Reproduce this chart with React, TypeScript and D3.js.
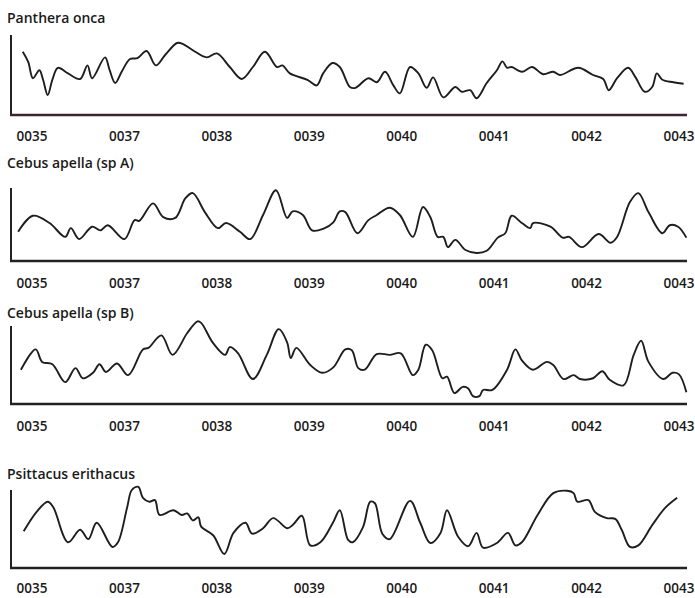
import React, { useEffect, useRef } from 'react';
import * as d3 from 'd3';

// tick labels along every x axis
const tickLabels = ['0035', '0037', '0038', '0039', '0040', '0041', '0042', '0043'];

const titles = ['Panthera onca', 'Cebus apella (sp A)', 'Cebus apella (sp B)', 'Psittacus erithacus'];

// [position in label units (0035 = 0 ... 0043 = 7), relative level 0-100]
const pantheraOnca: [number, number][] = [
  [-0.1, 79], [-0.04, 66], [0.01, 46], [0.08, 56], [0.12, 44], [0.17, 25], [0.22, 44], [0.28, 59],
  [0.39, 52], [0.52, 45], [0.6, 62], [0.65, 46], [0.79, 72], [0.84, 56], [0.9, 40], [0.97, 54],
  [1.06, 70], [1.14, 71], [1.24, 80], [1.34, 62], [1.44, 75], [1.57, 90], [1.63, 89], [1.74, 81],
  [1.89, 72], [2.0, 77], [2.14, 60], [2.27, 45], [2.39, 60], [2.52, 79], [2.65, 60], [2.71, 62],
  [2.79, 52], [2.98, 44], [3.08, 37], [3.15, 52], [3.25, 65], [3.33, 60], [3.44, 35], [3.5, 34],
  [3.64, 46], [3.73, 41], [3.82, 54], [3.91, 37], [3.98, 27], [4.09, 60], [4.18, 52], [4.27, 34],
  [4.34, 47], [4.45, 22], [4.58, 35], [4.65, 29], [4.74, 31], [4.81, 21], [4.92, 40], [5.03, 56],
  [5.09, 67], [5.14, 59], [5.19, 60], [5.3, 54], [5.41, 60], [5.53, 51], [5.64, 54], [5.71, 50],
  [5.91, 59], [6.07, 50], [6.18, 45], [6.24, 31], [6.33, 46], [6.45, 59], [6.53, 47], [6.63, 29],
  [6.71, 35], [6.76, 52], [6.82, 44], [6.94, 41], [7.05, 39],
];

const cebusA: [number, number][] = [
  [-0.15, 40], [0.01, 62], [0.19, 52], [0.36, 33], [0.42, 45], [0.51, 30], [0.65, 47], [0.74, 42],
  [0.82, 49], [1.0, 30], [1.11, 56], [1.16, 55], [1.31, 79], [1.42, 60], [1.55, 59], [1.66, 86],
  [1.74, 93], [1.87, 67], [2.01, 45], [2.1, 52], [2.25, 40], [2.36, 30], [2.5, 63], [2.64, 97],
  [2.76, 59], [2.82, 68], [2.93, 63], [3.03, 42], [3.15, 44], [3.26, 53], [3.33, 68], [3.39, 67],
  [3.52, 38], [3.64, 56], [3.73, 63], [3.87, 73], [3.98, 63], [4.12, 33], [4.23, 74], [4.31, 60],
  [4.39, 33], [4.45, 33], [4.5, 19], [4.58, 29], [4.69, 15], [4.81, 11], [4.92, 14], [5.04, 32],
  [5.12, 38], [5.19, 62], [5.3, 52], [5.39, 45], [5.42, 52], [5.61, 47], [5.74, 32], [5.81, 33],
  [5.95, 19], [6.13, 37], [6.26, 25], [6.33, 33], [6.47, 81], [6.56, 93], [6.67, 67], [6.82, 38],
  [6.9, 49], [6.99, 47], [7.08, 32],
];

const cebusB: [number, number][] = [
  [-0.12, 44], [0.04, 70], [0.11, 54], [0.22, 51], [0.36, 28], [0.47, 46], [0.55, 33], [0.66, 40],
  [0.73, 51], [0.8, 41], [0.92, 52], [1.04, 37], [1.2, 70], [1.26, 72], [1.4, 88], [1.52, 63],
  [1.68, 91], [1.79, 106], [1.83, 104], [1.96, 78], [2.09, 63], [2.14, 73], [2.23, 65], [2.39, 32],
  [2.54, 63], [2.67, 96], [2.76, 79], [2.8, 59], [2.86, 72], [3.01, 50], [3.14, 40], [3.26, 47],
  [3.39, 70], [3.46, 69], [3.53, 46], [3.6, 44], [3.73, 64], [3.87, 63], [3.99, 65], [4.12, 37],
  [4.18, 44], [4.26, 76], [4.33, 69], [4.44, 33], [4.49, 35], [4.57, 14], [4.66, 22], [4.72, 20],
  [4.77, 10], [4.84, 10], [4.88, 18], [4.98, 18], [5.14, 44], [5.23, 70], [5.3, 56], [5.42, 44],
  [5.57, 54], [5.64, 50], [5.75, 32], [5.86, 37], [5.93, 32], [6.07, 33], [6.17, 42], [6.25, 31],
  [6.4, 24], [6.51, 63], [6.59, 81], [6.67, 54], [6.83, 32], [6.93, 40], [7.0, 38], [7.08, 15],
];

const psittacus: [number, number][] = [
  [-0.09, 47], [0.05, 72], [0.17, 85], [0.23, 78], [0.39, 33], [0.52, 49], [0.61, 37], [0.7, 58],
  [0.87, 27], [0.93, 33], [1.03, 78], [1.08, 100], [1.15, 104], [1.2, 90], [1.27, 85], [1.33, 87],
  [1.38, 68], [1.53, 74], [1.62, 68], [1.68, 70], [1.74, 61], [1.8, 65], [1.83, 53], [1.96, 42],
  [2.08, 18], [2.18, 45], [2.31, 58], [2.38, 44], [2.5, 51], [2.61, 64], [2.76, 51], [2.82, 55],
  [2.92, 67], [3.01, 29], [3.12, 33], [3.26, 59], [3.33, 74], [3.42, 36], [3.47, 33], [3.58, 52],
  [3.66, 85], [3.71, 83], [3.79, 44], [3.87, 37], [4.09, 86], [4.2, 58], [4.31, 32], [4.42, 45],
  [4.49, 74], [4.61, 40], [4.72, 28], [4.81, 45], [4.88, 26], [5.03, 32], [5.15, 45], [5.23, 29],
  [5.3, 33], [5.47, 68], [5.64, 96], [5.79, 99], [5.86, 96], [5.9, 85], [6.02, 87], [6.09, 72],
  [6.22, 64], [6.31, 63], [6.38, 49], [6.47, 27], [6.56, 29], [6.71, 55], [6.85, 77], [6.98, 90],
];

const seriesList = [pantheraOnca, cebusA, cebusB, psittacus];

// panel layout: title baseline, axis top, axis baseline, label baseline
const panels = [
  { titleY: 23, top: 35, bottom: 115, labelY: 141, axisColor: '#3d2430' },
  { titleY: 168, top: 188, bottom: 261, labelY: 288, axisColor: '#222' },
  { titleY: 318, top: 326, bottom: 404, labelY: 431, axisColor: '#222' },
  { titleY: 479, top: 490, bottom: 568, labelY: 593, axisColor: '#222' },
];

const App = () => {
  const svgRef = useRef<SVGSVGElement>(null);

  useEffect(() => {
    const svg = d3.select(svgRef.current);
    svg.selectAll('*').remove();

    const axisLeft = 11;
    const axisRight = 687;
    const font = '"Open Sans", sans-serif';

    const xLabel = d3.scalePoint<string>().domain(tickLabels).range([32, 679]);
    const xUnit = d3.scaleLinear().domain([0, tickLabels.length - 1]).range([32, 679]);

    panels.forEach((p, i) => {
      const g = svg.append('g');
      const y = d3.scaleLinear().domain([0, 100]).range([p.bottom, p.top]);

      g.append('text')
        .attr('x', 7)
        .attr('y', p.titleY)
        .style('font-family', font)
        .style('font-weight', 600)
        .style('font-size', '14px')
        .attr('fill', '#1a1a1a')
        .text(titles[i]);

      // y axis line
      g.append('line')
        .attr('x1', axisLeft).attr('x2', axisLeft)
        .attr('y1', p.top).attr('y2', p.bottom)
        .attr('stroke', '#222')
        .attr('stroke-width', 2);

      // x axis line
      g.append('line')
        .attr('x1', axisLeft - 1).attr('x2', axisRight)
        .attr('y1', p.bottom).attr('y2', p.bottom)
        .attr('stroke', p.axisColor)
        .attr('stroke-width', 2.5);

      g.selectAll('.tick-label')
        .data(tickLabels)
        .enter()
        .append('text')
        .attr('class', 'tick-label')
        .attr('x', (d) => xLabel(d) as number)
        .attr('y', p.labelY)
        .attr('text-anchor', 'middle')
        .style('font-family', font)
        .style('font-weight', 600)
        .style('font-size', '13.5px')
        .attr('fill', '#1a1a1a')
        .text((d) => d);

      const line = d3.line<[number, number]>()
        .x((d) => xUnit(d[0]))
        .y((d) => y(d[1]))
        .curve(d3.curveCatmullRom.alpha(0.5));

      g.append('path')
        .datum(seriesList[i])
        .attr('d', line)
        .attr('fill', 'none')
        .attr('stroke', '#1e1e1e')
        .attr('stroke-width', 1.9)
        .attr('stroke-linejoin', 'round');
    });
  }, []);

  return (
    <svg
      ref={svgRef}
      width={695}
      height={598}
      style={{ position: 'absolute', left: 0, top: 0, background: '#fff' }}
    />
  );
};

export default App;
